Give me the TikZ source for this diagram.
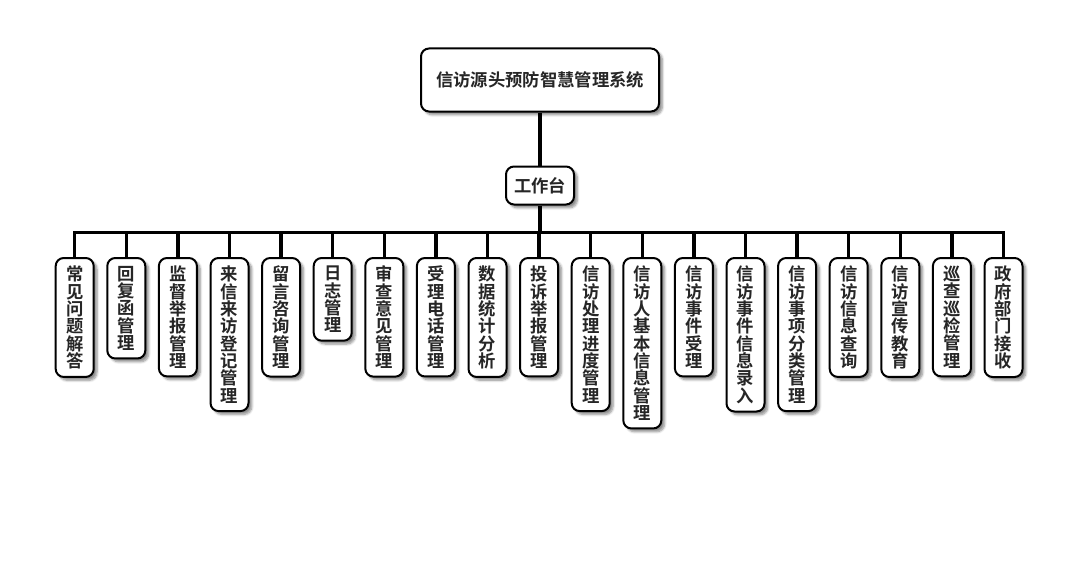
\documentclass[tikz,border=0pt]{standalone}
\usepackage{fontspec}
\newfontfamily\cjk{Noto Sans CJK SC}[BoldFont={Noto Sans CJK SC Bold}]
\usepackage{tikz}
\usetikzlibrary{positioning, calc, shadows.blur}

\begin{document}
\begin{tikzpicture}[
    x=0.75pt, y=-0.75pt,
    box/.style={draw, line width=1.5pt, rounded corners=6pt, fill=white, align=center,
        font=\cjk\bfseries\fontsize{13pt}{13pt}\selectfont, text=black!85,
        blur shadow={shadow xshift=2.5pt, shadow yshift=-2.5pt, shadow blur steps=6, shadow opacity=45}},
    top/.style={box, minimum width=178.5pt, minimum height=47.25pt},
    hub/.style={box, minimum width=51pt, minimum height=28.5pt},
    leaf/.style={box, anchor=north, minimum width=28.5pt, inner xsep=2pt, inner ysep=6pt},
    link/.style={line width=2.5pt},
]
\useasboundingbox (0,0) rectangle (1080,560);

\node[top] (root) at (540,80) {信访源头预防智慧管理系统};
\node[hub, below=39.75pt of root] (work) {工作台};
\coordinate[below=20.25pt of work] (bus);

\foreach \t [count=\i] in {
    {常\\见\\问\\题\\解\\答}, {回\\复\\函\\管\\理}, {监\\督\\举\\报\\管\\理},
    {来\\信\\来\\访\\登\\记\\管\\理}, {留\\言\\咨\\询\\管\\理}, {日\\志\\管\\理},
    {审\\查\\意\\见\\管\\理}, {受\\理\\电\\话\\管\\理}, {数\\据\\统\\计\\分\\析},
    {投\\诉\\举\\报\\管\\理}, {信\\访\\处\\理\\进\\度\\管\\理}, {信\\访\\人\\基\\本\\信\\息\\管\\理},
    {信\\访\\事\\件\\受\\理}, {信\\访\\事\\件\\信\\息\\录\\入}, {信\\访\\事\\项\\分\\类\\管\\理},
    {信\\访\\信\\息\\查\\询}, {信\\访\\宣\\传\\教\\育}, {巡\\查\\巡\\检\\管\\理},
    {政\\府\\部\\门\\接\\收}}
{
    \node[leaf] (l\i) at ({74.7+51.6*(\i-1)},257) {\t};
    \draw[link] (l\i.north) -- (l\i.north |- bus);
}

\draw[link] (root) -- (work);
\draw[link] (work) -- (bus);
\draw[link] ([xshift=-1.25pt]l1.north |- bus) -- ([xshift=1.25pt]l19.north |- bus);
\end{tikzpicture}
\end{document}
